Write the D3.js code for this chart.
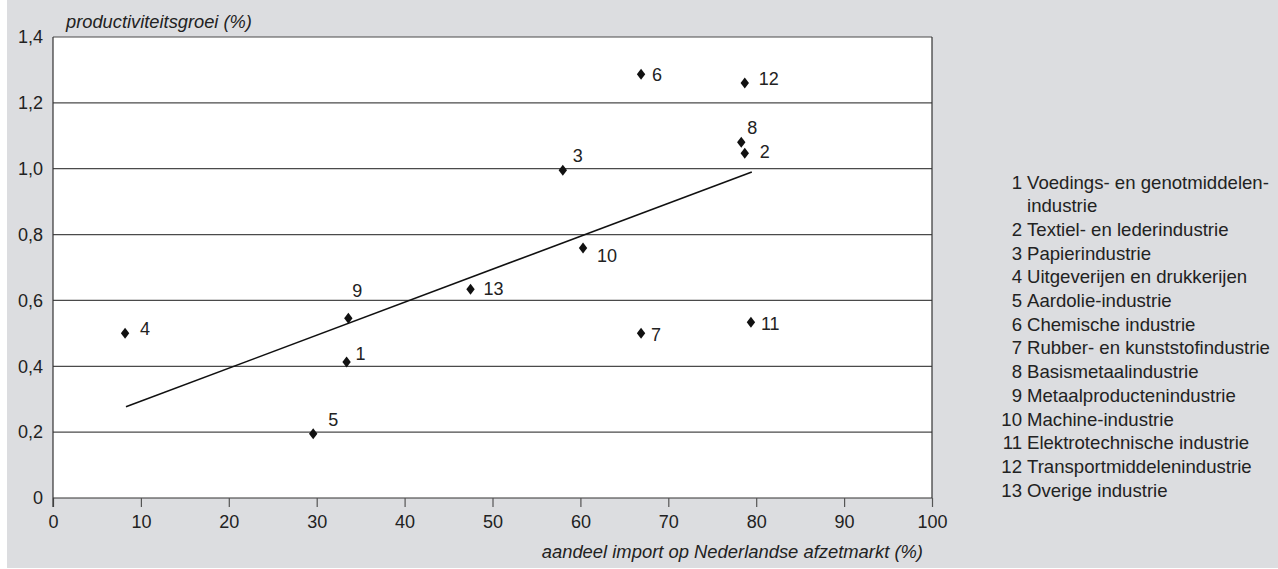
<!DOCTYPE html>
<html><head><meta charset="utf-8">
<script src="https://cdn.jsdelivr.net/npm/d3@7"></script>
<style>body{margin:0;background:#fff;}svg{display:block;font-family:"Liberation Sans",Arial,sans-serif;}</style>
</head><body><svg id="c" width="1278" height="569"></svg>
<script>
const ids = [1,2,3,4,5,6,7,8,9,10,11,12,13];
const importShare = [33.4,78.7,58.0,8.2,29.6,66.9,66.9,78.3,33.6,60.3,79.4,78.7,47.5];
const productivity = [0.413,1.047,0.995,0.50,0.195,1.287,0.50,1.08,0.546,0.759,0.534,1.26,0.634];
const industries = ["Voedings- en genotmiddelen-\nindustrie","Textiel- en lederindustrie","Papierindustrie","Uitgeverijen en drukkerijen","Aardolie-industrie","Chemische industrie","Rubber- en kunststofindustrie","Basismetaalindustrie","Metaalproductenindustrie","Machine-industrie","Elektrotechnische industrie","Transportmiddelenindustrie","Overige industrie"];
const trendX = [8.3,79.5];
const trendY = [0.277,0.99];
const xTicks = [0,10,20,30,40,50,60,70,80,90,100];
const yTicks = [0,0.2,0.4,0.6,0.8,1.0,1.2,1.4];
const yTitle = "productiviteitsgroei (%)";
const xTitle = "aandeel import op Nederlandse afzetmarkt (%)";

const FS = 18;
const svg = d3.select("#c");
svg.append("rect").attr("x",7).attr("y",0).attr("width",1271).attr("height",568).attr("fill","#dcdde0");
const x = d3.scaleLinear().domain([0,100]).range([53,932]);
const y = d3.scaleLinear().domain([0,1.4]).range([498,37]);
svg.append("rect").attr("x",x(0)).attr("y",y(1.4)).attr("width",x(100)-x(0)).attr("height",y(0)-y(1.4)).attr("fill","#fff");

// gridlines
svg.append("g").selectAll("line").data(yTicks.filter(d=>d>0)).join("line")
  .attr("x1",x(0)).attr("x2",x(100)).attr("y1",d=>y(d)).attr("y2",d=>y(d))
  .attr("stroke","#4a4a4a").attr("stroke-width",1.2);
// right border
svg.append("line").attr("x1",x(100)).attr("x2",x(100)).attr("y1",y(1.4)).attr("y2",y(0)).attr("stroke","#333").attr("stroke-width",1.2);

const fmt = d => d===0 ? "0" : d3.format(".1f")(d).replace(".",",");
// x axis
const xa = svg.append("g").attr("transform",`translate(0,${y(0)})`)
  .call(d3.axisBottom(x).tickValues(xTicks).tickSize(9).tickPadding(8).tickFormat(d=>d));
xa.select(".domain").attr("stroke","#333").attr("stroke-width",1.2).attr("d",`M${x(0)},0H${x(100)}`);
xa.selectAll(".tick line").attr("stroke","#555").attr("stroke-width",1.2);
xa.selectAll("text").attr("font-size",FS).attr("fill","#222").attr("font-family","Liberation Sans, Arial");
// y axis
const ya = svg.append("g").attr("transform",`translate(${x(0)},0)`)
  .call(d3.axisLeft(y).tickValues(yTicks).tickSize(0).tickPadding(10).tickFormat(fmt));
ya.select(".domain").attr("stroke","#333").attr("stroke-width",1.2).attr("d",`M0,${y(1.4)}V${y(0)+9}`);
ya.selectAll("text").attr("font-size",FS).attr("fill","#222").attr("font-family","Liberation Sans, Arial");

// titles
svg.append("text").attr("x",66).attr("y",28).attr("font-size",18.3).attr("font-style","italic").attr("fill","#222").text(yTitle);
svg.append("text").attr("x",923).attr("y",558).attr("text-anchor","end").attr("font-size",18.4).attr("font-style","italic").attr("fill","#222").text(xTitle);

// trend line
const trend = trendX.map((d,i)=>[d,trendY[i]]);
svg.append("path").datum(trend).attr("d",d3.line().x(d=>x(d[0])).y(d=>y(d[1])))
  .attr("stroke","#111").attr("stroke-width",1.6).attr("fill","none");

// points
const pts = ids.map((id,i)=>({id, x:importShare[i], y:productivity[i]}));
const diamond = "M0,-5.5L4.2,0L0,5.5L-4.2,0Z";
svg.append("g").selectAll("path").data(pts).join("path")
  .attr("transform",d=>`translate(${x(d.x)},${y(d.y)})`).attr("d",diamond).attr("fill","#111");

// label placement (style, not data)
const place = {1:[9,-2.5],2:[15,4.5],3:[10,-8.5],4:[15,1.5],5:[15,-7.5],6:[11,6.5],7:[10,7.5],8:[6,-8.5],9:[4,-21.5],10:[14,13.5],11:[10,7.5],12:[14,1.5],13:[13,5.5]};
svg.append("g").selectAll("text").data(pts).join("text")
  .attr("x",d=>x(d.x)+place[d.id][0]).attr("y",d=>y(d.y)+place[d.id][1])
  .attr("font-size",FS).attr("fill","#222").text(d=>d.id);

// legend
const LFS = 18.6;
const lg = svg.append("g");
let row = 0;
ids.forEach((id,i)=>{
  const parts = industries[i].split("\n");
  lg.append("text").attr("x",1022).attr("y",188.5+row*23.7).attr("text-anchor","end").attr("font-size",LFS).attr("fill","#222").text(id);
  parts.forEach((p,j)=>{
    lg.append("text").attr("x",1027).attr("y",188.5+(row+j)*23.7).attr("font-size",LFS).attr("fill","#222").text(p);
  });
  row += parts.length;
});
</script></body></html>
